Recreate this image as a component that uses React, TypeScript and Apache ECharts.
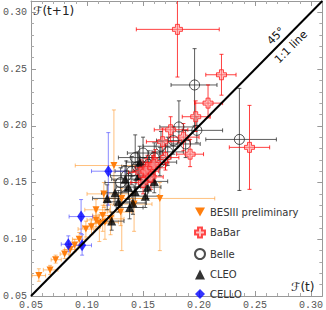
import React, { useEffect, useRef } from "react";
import * as echarts from "echarts";

// rows: [x, y, xLow, xHigh, yLow, yHigh]
const besiii: number[][] = [
  [0.057, 0.068, 0.051, 0.063, 0.063, 0.074],
  [0.067, 0.073, 0.061, 0.074, 0.069, 0.077],
  [0.072, 0.082, 0.068, 0.077, 0.079, 0.086],
  [0.080, 0.087, 0.076, 0.084, 0.083, 0.091],
  [0.085, 0.091, 0.080, 0.090, 0.086, 0.096],
  [0.089, 0.095, 0.084, 0.095, 0.089, 0.100],
  [0.093, 0.100, 0.087, 0.099, 0.094, 0.106],
  [0.099, 0.109, 0.092, 0.106, 0.102, 0.116],
  [0.104, 0.111, 0.096, 0.112, 0.104, 0.118],
  [0.108, 0.117, 0.100, 0.117, 0.109, 0.125],
  [0.111, 0.114, 0.103, 0.120, 0.098, 0.122],
  [0.114, 0.121, 0.105, 0.124, 0.107, 0.130],
  [0.116, 0.115, 0.108, 0.128, 0.100, 0.130],
  [0.121, 0.118, 0.110, 0.133, 0.104, 0.131],
  [0.124, 0.165, 0.0895, 0.146, 0.130, 0.214],
  [0.115, 0.140, 0.100, 0.140, 0.128, 0.150],
  [0.131, 0.136, 0.115, 0.150, 0.090, 0.145],
  [0.142, 0.131, 0.128, 0.158, 0.107, 0.142],
  [0.165, 0.136, 0.120, 0.214, 0.090, 0.150],
  [0.108, 0.126, 0.098, 0.120, 0.115, 0.135],
  [0.130, 0.124, 0.118, 0.140, 0.112, 0.135],
];

const babar: number[][] = [
  [0.1807, 0.285, 0.144, 0.218, 0.243, 0.320],
  [0.220, 0.245, 0.206, 0.233, 0.227, 0.263],
  [0.208, 0.220, 0.196, 0.221, 0.207, 0.236],
  [0.197, 0.208, 0.185, 0.210, 0.195, 0.222],
  [0.245, 0.181, 0.227, 0.263, 0.144, 0.218],
  [0.1746, 0.1965, 0.160, 0.190, 0.186, 0.208],
  [0.186, 0.190, 0.173, 0.200, 0.178, 0.202],
  [0.192, 0.175, 0.180, 0.204, 0.164, 0.188],
  [0.1675, 0.186, 0.153, 0.182, 0.174, 0.198],
  [0.161, 0.1675, 0.150, 0.173, 0.156, 0.179],
  [0.154, 0.163, 0.143, 0.165, 0.152, 0.174],
  [0.148, 0.159, 0.137, 0.159, 0.148, 0.170],
  [0.1526, 0.160, 0.141, 0.164, 0.149, 0.171],
  [0.1588, 0.163, 0.147, 0.170, 0.152, 0.174],
  [0.150, 0.150, 0.139, 0.161, 0.140, 0.161],
  [0.157, 0.155, 0.146, 0.168, 0.144, 0.166],
  [0.1596, 0.1658, 0.148, 0.171, 0.155, 0.177],
  [0.170, 0.172, 0.158, 0.182, 0.161, 0.183],
];

const belle: number[][] = [
  [0.196, 0.236, 0.175, 0.216, 0.200, 0.268],
  [0.236, 0.188, 0.206, 0.269, 0.143, 0.233],
  [0.198, 0.196, 0.185, 0.221, 0.185, 0.208],
  [0.182, 0.199, 0.165, 0.196, 0.185, 0.222],
  [0.177, 0.187, 0.162, 0.192, 0.175, 0.199],
  [0.172, 0.177, 0.158, 0.186, 0.165, 0.190],
  [0.166, 0.182, 0.150, 0.181, 0.170, 0.195],
  [0.160, 0.172, 0.146, 0.175, 0.160, 0.185],
  [0.155, 0.166, 0.140, 0.170, 0.154, 0.178],
  [0.150, 0.176, 0.136, 0.165, 0.163, 0.190],
  [0.145, 0.164, 0.131, 0.160, 0.152, 0.177],
  [0.140, 0.160, 0.125, 0.155, 0.148, 0.173],
  [0.135, 0.156, 0.121, 0.149, 0.144, 0.169],
  [0.130, 0.150, 0.116, 0.144, 0.138, 0.163],
  [0.165, 0.168, 0.150, 0.180, 0.156, 0.181],
  [0.188, 0.184, 0.175, 0.201, 0.172, 0.196],
  [0.143, 0.172, 0.128, 0.158, 0.160, 0.192],
];

const cleo: number[][] = [
  [0.147, 0.168, 0.135, 0.158, 0.158, 0.182],
  [0.134, 0.153, 0.122, 0.146, 0.143, 0.165],
  [0.137, 0.146, 0.126, 0.148, 0.135, 0.158],
  [0.146, 0.156, 0.135, 0.158, 0.146, 0.168],
  [0.154, 0.146, 0.142, 0.166, 0.136, 0.158],
  [0.118, 0.136, 0.105, 0.130, 0.126, 0.148],
  [0.122, 0.116, 0.112, 0.133, 0.108, 0.124],
  [0.138, 0.128, 0.126, 0.150, 0.118, 0.138],
  [0.152, 0.138, 0.140, 0.164, 0.128, 0.149],
  [0.128, 0.133, 0.116, 0.140, 0.124, 0.143],
  [0.141, 0.132, 0.129, 0.153, 0.122, 0.142],
  [0.125, 0.141, 0.113, 0.137, 0.131, 0.152],
  [0.160, 0.151, 0.148, 0.172, 0.141, 0.162],
  [0.143, 0.142, 0.131, 0.155, 0.132, 0.152],
];

const cello: number[][] = [
  [0.119, 0.160, 0.104, 0.134, 0.130, 0.194],
  [0.0947, 0.120, 0.084, 0.105, 0.105, 0.135],
  [0.0833, 0.0956, 0.077, 0.090, 0.089, 0.103],
  [0.0956, 0.0947, 0.088, 0.104, 0.086, 0.104],
];

const seriesNames = ["BESIII preliminary", "BaBar", "Belle", "CLEO", "CELLO"];
const tickValues = [0.05, 0.1, 0.15, 0.2, 0.25, 0.3];
const diagonal = [[0.05, 0.05], [0.31, 0.31]];

const CROSS = "path://M3,0H7V3H10V7H7V10H3V7H0V3H3Z";
const DOWN_TRI = "path://M0,0L10,0L5,9Z";

function errorBars(name: string, rows: number[][], color: string, z: number) {
  return {
    type: "custom",
    name: name + "-err",
    data: rows,
    z,
    clip: true,
    encode: { x: 0, y: 1 },
    renderItem: (_p: any, api: any) => {
      const x = api.value(0), y = api.value(1);
      const pl = api.coord([api.value(2), y]);
      const ph = api.coord([api.value(3), y]);
      const pb = api.coord([x, api.value(4)]);
      const pt = api.coord([x, api.value(5)]);
      const c = 2;
      const st = { stroke: color, lineWidth: 1 };
      const ln = (x1: number, y1: number, x2: number, y2: number) => ({
        type: "line", shape: { x1, y1, x2, y2 }, style: st,
      });
      return {
        type: "group",
        children: [
          ln(pl[0], pl[1], ph[0], ph[1]),
          ln(pl[0], pl[1] - c, pl[0], pl[1] + c),
          ln(ph[0], ph[1] - c, ph[0], ph[1] + c),
          ln(pb[0], pb[1], pt[0], pt[1]),
          ln(pb[0] - c, pb[1], pb[0] + c, pb[1]),
          ln(pt[0] - c, pt[1], pt[0] + c, pt[1]),
        ],
      };
    },
  };
}

function axisCommon(pos: string, showLabel: boolean) {
  return {
    type: "value",
    min: 0.05,
    max: 0.31,
    interval: 0.05,
    position: pos,
    axisLine: { show: true, onZero: false, lineStyle: { color: "#999", width: 1 } },
    axisTick: { show: true, inside: true, length: 5, lineStyle: { color: "#999" } },
    minorTick: { show: true, splitNumber: 5, length: 3, lineStyle: { color: "#aaa" } },
    splitLine: { show: false },
    minorSplitLine: { show: false },
    axisLabel: {
      show: showLabel,
      showMaxLabel: false,
      margin: 4,
      color: "#555",
      fontFamily: "Liberation Mono",
      fontSize: 10,
      formatter: (v: number) =>
        tickValues.some((t) => Math.abs(t - v) < 1e-6) ? v.toFixed(2) : "",
    },
  };
}

export default function App() {
  const ref = useRef<HTMLDivElement>(null);
  useEffect(() => {
    document.body.style.margin = "0";
    const chart = echarts.init(ref.current!, null, { renderer: "svg" });
    const pts = (rows: number[][]) => rows.map((r) => [r[0], r[1]]);
    chart.setOption({
      animation: false,
      backgroundColor: "#fff",
      grid: { left: 28, top: 1, width: 296, height: 296 },
      xAxis: [axisCommon("bottom", true), axisCommon("top", false)],
      yAxis: [axisCommon("left", true), axisCommon("right", false)],
      legend: {
        orient: "vertical",
        left: 189,
        top: 202,
        padding: 5,
        itemWidth: 10,
        itemHeight: 10,
        itemGap: 9.5,
        data: [
          { name: seriesNames[0], icon: DOWN_TRI },
          { name: seriesNames[1] },
          { name: seriesNames[2] },
          { name: seriesNames[3] },
          { name: seriesNames[4] },
        ],
        textStyle: { fontSize: 10, color: "#333", fontFamily: "DejaVu Sans" },
      },
      series: [
        errorBars("BESIII", besiii, "rgba(255,140,20,0.55)", 1),
        errorBars("CLEO", cleo, "rgba(40,40,40,0.75)", 2),
        errorBars("Belle", belle, "rgba(40,40,40,0.75)", 2),
        errorBars("BaBar", babar, "rgba(255,0,0,0.75)", 3),
        errorBars("CELLO", cello, "rgba(60,60,255,0.6)", 3),
        {
          type: "scatter", name: seriesNames[0], data: pts(besiii), z: 4,
          symbol: "triangle", symbolRotate: 180, symbolSize: 7,
          itemStyle: { color: "#ff7f0e", opacity: 1 },
        },
        {
          type: "scatter", name: seriesNames[3], data: pts(cleo), z: 4,
          symbol: "triangle", symbolSize: 9,
          itemStyle: { color: "#000" },
        },
        {
          type: "scatter", name: seriesNames[2], data: pts(belle), z: 4,
          symbol: "circle", symbolSize: 10,
          itemStyle: { color: "rgba(255,255,255,0)", borderColor: "#222", borderWidth: 1 },
        },
        {
          type: "scatter", name: seriesNames[1], data: pts(babar), z: 5,
          symbol: CROSS, symbolSize: 10,
          itemStyle: { color: "rgba(255,150,150,0.7)", borderColor: "#ff2020", borderWidth: 1 },
        },
        {
          type: "scatter", name: seriesNames[4], data: pts(cello), z: 5,
          symbol: "diamond", symbolSize: [8, 12],
          itemStyle: { color: "#0000ff" },
        },
        {
          type: "line", data: diagonal, z: 6, symbol: "none",
          lineStyle: { color: "#000", width: 2 },
        },
      ],
      graphic: [
        {
          type: "text", left: 33, top: 5, z: 10,
          style: { text: "ℱ(t+1)", fontSize: 12, fill: "#222", fontFamily: "DejaVu Sans" },
        },
        {
          type: "text", left: 291, top: 281, z: 10,
          style: { text: "ℱ(t)", fontSize: 12, fill: "#222", fontFamily: "DejaVu Sans" },
        },
        {
          type: "text", x: 276, y: 36, rotation: Math.PI / 4, z: 10,
          style: { text: "45°", fontSize: 11, fill: "#111", fontFamily: "DejaVu Sans", align: "center", verticalAlign: "middle" },
        },
        {
          type: "text", x: 291, y: 47, rotation: Math.PI / 4, z: 10,
          style: { text: "1:1 line", fontSize: 11, fill: "#111", fontFamily: "DejaVu Sans", align: "center", verticalAlign: "middle" },
        },
      ],
    });
    return () => chart.dispose();
  }, []);
  return <div ref={ref} style={{ width: 326, height: 310 }} />;
}
